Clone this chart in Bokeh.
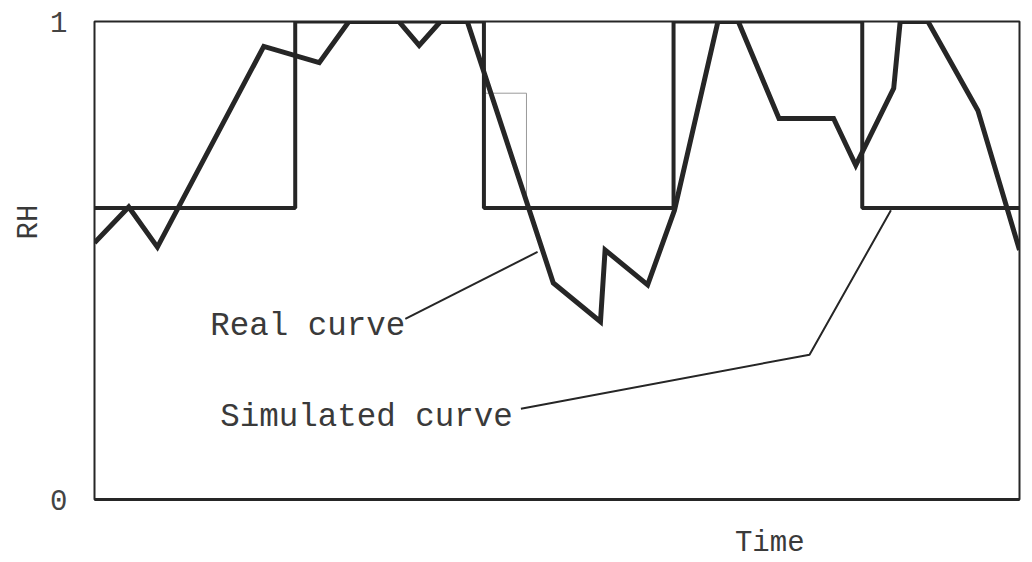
from bokeh.plotting import figure
from bokeh.models import Range1d, LinearAxis, FixedTicker, Label, Title
from bokeh.embed import file_html
from bokeh.resources import INLINE

# Real measured RH curve (time in arbitrary units 0..100)
real_time = [0, 3.7, 6.8, 18.3, 24.3, 27.5, 32.9, 35.1, 37.4, 40.3, 49.6, 54.7,
             55.2, 59.8, 62.7, 67.4, 69.6, 74.0, 79.9, 82.3, 86.4, 87.1, 90.1,
             95.5, 100.0]
real_rh = [0.537, 0.612, 0.528, 0.948, 0.914, 1.0, 1.0, 0.950, 1.0, 1.0, 0.453,
           0.372, 0.522, 0.449, 0.605, 1.0, 1.0, 0.797, 0.797, 0.699, 0.860,
           1.0, 1.0, 0.814, 0.522]

# Simulated curve: square wave between low and high RH
sim_time = [0, 21.7, 42.1, 62.6, 83.0, 100.0]
sim_rh = [0.61, 1.0, 0.61, 1.0, 0.61, 0.61]

# Annotation leader lines
real_leader_t = [33.6, 47.9]
real_leader_rh = [0.378, 0.518]
sim_leader_t = [46.1, 77.3, 86.1]
sim_leader_rh = [0.190, 0.303, 0.605]

# faint scan mark
mark_t = [42.3, 46.7, 46.7]
mark_rh = [0.850, 0.850, 0.612]

y_ticks = [0, 1]
x_label_tick = 73          # where the "Time" caption sits on the time axis
x_label_text = "Time"
FONT = "Liberation Mono"
INK = "#262626"
TXT = "#3a3a3a"

p = figure(width=1024, height=562, output_backend="svg", toolbar_location=None,
           x_range=Range1d(0, 100), y_range=Range1d(0, 1),
           x_axis_location=None, y_axis_location=None,
           min_border_left=94, min_border_right=5, min_border_top=21,
           min_border_bottom=62)
p.grid.visible = False
p.outline_line_color = INK
p.outline_line_width = 2
p.background_fill_color = "white"
p.border_fill_color = "white"

yaxis = LinearAxis(ticker=FixedTicker(ticks=y_ticks))
yaxis.axis_line_color = None
yaxis.major_tick_line_color = None
yaxis.minor_tick_line_color = None
yaxis.major_tick_out = 0
yaxis.major_tick_in = 0
yaxis.major_label_text_font = FONT
yaxis.major_label_text_font_size = "29px"
yaxis.major_label_text_color = "#444444"
yaxis.major_label_standoff = 27
p.add_layout(yaxis, "left")

xaxis = LinearAxis(ticker=FixedTicker(ticks=[x_label_tick]),
                   major_label_overrides={x_label_tick: x_label_text})
xaxis.axis_line_color = INK
xaxis.axis_line_width = 3
xaxis.major_tick_line_color = None
xaxis.minor_tick_line_color = None
xaxis.major_tick_out = 0
xaxis.major_tick_in = 0
xaxis.major_label_text_font = FONT
xaxis.major_label_text_font_size = "29px"
xaxis.major_label_text_color = TXT
xaxis.major_label_standoff = 27
p.add_layout(xaxis, "below")

p.line(mark_t, mark_rh, line_color="#9a9a9a", line_width=1)
p.step(sim_time, sim_rh, mode="after", line_color=INK, line_width=4)
p.line(real_time, real_rh, line_color=INK, line_width=5, line_join="miter")
p.line(real_leader_t, real_leader_rh, line_color=INK, line_width=2)
p.line(sim_leader_t, sim_leader_rh, line_color=INK, line_width=2)

p.add_layout(Label(x=12.5, y=0.361, text="Real curve", text_font=FONT,
                   text_font_size="32.5px", text_color=TXT,
                   text_baseline="alphabetic", text_align="left"))
p.add_layout(Label(x=13.6, y=0.171, text="Simulated curve", text_font=FONT,
                   text_font_size="32.5px", text_color=TXT,
                   text_baseline="alphabetic", text_align="left"))

rh_title = Title(text="RH", align="left", offset=260, text_font=FONT,
                 text_font_size="29px", text_font_style="normal",
                 text_color=TXT, standoff=4)
p.add_layout(rh_title, "left")

open("out.html", "w").write(file_html(p, INLINE))
